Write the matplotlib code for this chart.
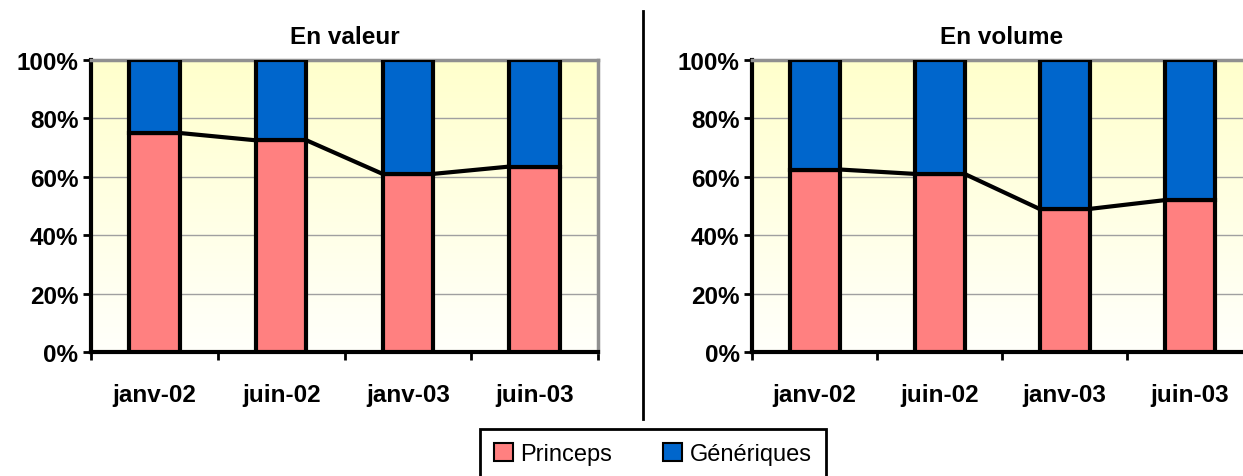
import matplotlib
matplotlib.use("Agg")
import matplotlib.pyplot as plt
import numpy as np
from matplotlib.patches import Patch
from matplotlib.colors import LinearSegmentedColormap

plt.rcParams['font.family'] = ['Liberation Sans', 'DejaVu Sans']

periods = ["janv-02", "juin-02", "janv-03", "juin-03"]
princeps_valeur = [75.0, 72.5, 61.0, 63.5]
princeps_volume = [62.5, 61.0, 49.0, 52.0]
panel_titles = ["En valeur", "En volume"]
series_names = ["Princeps", "Génériques"]

PINK = "#FF8080"
BLUE = "#0066CC"
bg_cmap = LinearSegmentedColormap.from_list("bg", ["#FFFFFB", "#FFFFCC"])


def draw_panel(ax, princeps, title):
    x = np.arange(len(periods))
    gen = [100 - p for p in princeps]
    w = 0.4

    ax.set_xlim(-0.5, len(periods) - 0.5)
    ax.set_ylim(0, 100)
    grad = np.linspace(0, 1, 256).reshape(-1, 1)
    ax.imshow(grad, cmap=bg_cmap, origin="lower", aspect="auto",
              extent=(-0.5, len(periods) - 0.5, 0, 100), zorder=0)

    ax.bar(x, princeps, w, color=PINK, edgecolor="black", linewidth=3, zorder=3)
    ax.bar(x, gen, w, bottom=princeps, color=BLUE, edgecolor="black", linewidth=3, zorder=3)

    # series lines between the tops of the princeps segments
    for i in range(len(periods) - 1):
        ax.plot([x[i] + w / 2, x[i + 1] - w / 2], [princeps[i], princeps[i + 1]],
                color="black", lw=3, zorder=2, solid_capstyle="butt")

    ax.set_yticks(range(0, 101, 20))
    ax.set_yticklabels([f"{v}%" for v in range(0, 101, 20)], fontsize=17.5, fontweight="bold")
    ax.yaxis.grid(True, color="#A0A0A0", lw=1)
    ax.set_axisbelow(True)

    ax.set_xticks(np.arange(-0.5, len(periods)))
    ax.set_xticklabels([])
    ax.set_xticks(x, minor=True)
    ax.set_xticklabels(periods, minor=True, fontsize=17.5, fontweight="bold")
    ax.tick_params(axis="x", which="minor", length=0, pad=22)
    ax.tick_params(axis="x", which="major", length=6, width=2, direction="out")
    ax.tick_params(axis="y", length=6, width=2, pad=3)

    for side in ("left", "bottom"):
        ax.spines[side].set_linewidth(3)
        ax.spines[side].set_color("black")
    for side in ("top", "right"):
        ax.spines[side].set_linewidth(2.5)
        ax.spines[side].set_color("#909090")

    ax.set_title(title, fontsize=17.5, fontweight="bold", pad=12)


fig = plt.figure(figsize=(12.43, 4.77), dpi=100)
ax1 = fig.add_axes([91 / 1243, 1 - 353 / 477, 507 / 1243, 292 / 477])
ax2 = fig.add_axes([752 / 1243, 1 - 353 / 477, 500 / 1243, 292 / 477])
draw_panel(ax1, princeps_valeur, panel_titles[0])
draw_panel(ax2, princeps_volume, panel_titles[1])

# separator between the two panels
fig.add_artist(plt.Line2D([643 / 1243, 643 / 1243], [1 - 12 / 477, 1 - 420 / 477],
                          color="black", lw=2, transform=fig.transFigure))

handles = [Patch(facecolor=PINK, edgecolor="black", lw=1.5),
           Patch(facecolor=BLUE, edgecolor="black", lw=1.5)]
leg = fig.legend(handles, series_names, loc="upper center", bbox_to_anchor=(0.525, 1 - 430 / 477),
                 ncol=2, fontsize=17, frameon=True, fancybox=False, edgecolor="black",
                 framealpha=1, handlelength=0.8, handleheight=0.8, handletextpad=0.3,
                 columnspacing=2.2, borderpad=0.6, borderaxespad=0)
leg.get_frame().set_linewidth(2)

fig.savefig("out.png", dpi=100)
